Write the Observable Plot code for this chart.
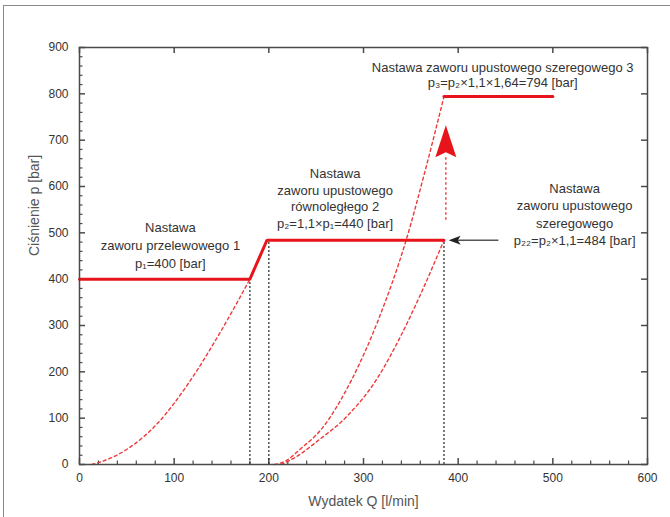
<!DOCTYPE html>
<html><head><meta charset="utf-8">
<script src="https://cdn.jsdelivr.net/npm/d3@7"></script>
<script src="https://cdn.jsdelivr.net/npm/@observablehq/plot@0.6"></script>
<style>
html,body{margin:0;padding:0;background:#fff;}
#wrap{position:relative;width:670px;height:517px;overflow:hidden;background:#fff;}
#border{position:absolute;left:3px;top:5px;width:720px;height:600px;border-left:1.5px solid #8a8a8a;border-top:1.5px solid #8a8a8a;}
#chart{position:absolute;left:0;top:0;}
</style></head><body>
<div id="wrap"><div id="border"></div><div id="chart"></div></div>
<script>
// ---- data ----
const xMajor = [0, 100, 200, 300, 400, 500, 600];
const yMajor = [0, 100, 200, 300, 400, 500, 600, 700, 800, 900];
const xMinor = d3.range(0, 601, 20).filter(v => v % 100 !== 0);
const yMinor = d3.range(0, 901, 20).filter(v => v % 100 !== 0);

// characteristic (solid red)
const mainQ = [0, 180, 198, 385];
const mainP = [400, 400, 484, 484];
const topQ = [385, 500];
const topP = [794, 794];

// dashed red curves
const curveAQ = [13, 20, 51, 83, 115, 150, 180];
const curveAP = [0, 4, 34, 90, 175, 290, 400];
const curveBQ = [206, 218, 233, 255, 287, 316, 345, 365, 385];
const curveBP = [0, 8, 33, 75, 181, 314, 484, 633, 794];
const curveCQ = [213, 230, 251, 283, 313, 340, 362, 385];
const curveCP = [0, 18, 50, 105, 181, 280, 375, 484];

// black dotted drop lines
const dropQ = [180, 200, 385];
const dropP = [400, 484, 484];

// red arrow (up) and black arrow (left)
const redArrowQ = 387, redArrowFrom = 527, redArrowTo = 665, redArrowTip = 732;
const blackArrowP = 484, blackArrowFrom = 443, blackArrowTip = 390;

// annotations
const note1 = "Nastawa\nzaworu przelewowego 1\np₁=400 [bar]";
const note2 = "Nastawa\nzaworu upustowego\nrównoległego 2\np₂=1,1×p₁=440 [bar]";
const note3 = "Nastawa zaworu upustowego szeregowego 3\np₃=p₂×1,1×1,64=794 [bar]";
const note4 = "Nastawa\nzaworu upustowego\nszeregowego\np₂₂=p₂×1,1=484 [bar]";
const xLabel = "Wydatek Q [l/min]";
const yLabel = "Ciśnienie p [bar]";

// ---- build ----
const W = 670, H = 517, ML = 79, MR = 23, MT = 47, MB = 53;
const xDom = [0, 600], yDom = [0, 900];
// pixel -> data-unit conversion for tick lengths
const ux = px => px * (xDom[1] - xDom[0]) / (W - ML - MR);
const uy = px => px * (yDom[1] - yDom[0]) / (H - MT - MB);

const zip = (qs, ps) => qs.map((q, i) => ({q, p: ps[i]}));
const RED = "#e8141b";
const DRED = "#ee3a3a";
const AX = "#4a4a4a";
const TXT = "#333";
const redHead = {draw(ctx) { ctx.moveTo(0, 0); ctx.lineTo(10.5, 32); ctx.lineTo(0, 27); ctx.lineTo(-10.5, 32); ctx.closePath(); }};
const blackHead = {draw(ctx) { ctx.moveTo(0, 0); ctx.lineTo(12, -4.5); ctx.lineTo(9, 0); ctx.lineTo(12, 4.5); ctx.closePath(); }};

const font = "'Liberation Sans', Arial, Helvetica, sans-serif";

const chart = Plot.plot({
  width: W, height: H,
  marginLeft: ML, marginRight: MR, marginTop: MT, marginBottom: MB,
  x: {domain: xDom},
  y: {domain: yDom},
  style: {fontFamily: font, fontSize: "12px", color: TXT, background: "transparent"},
  marks: [
    // inward ticks
    Plot.ruleX(xMajor, {x: d => d, y1: yDom[0], y2: yDom[0] + uy(6), stroke: AX, strokeWidth: 1.5}),
    Plot.ruleX(xMinor, {x: d => d, y1: yDom[0], y2: yDom[0] + uy(3.5), stroke: AX, strokeWidth: 1.2}),
    Plot.ruleX(xMajor, {x: d => d, y1: yDom[1], y2: yDom[1] - uy(6), stroke: AX, strokeWidth: 1.5}),
    Plot.ruleY(yMajor, {y: d => d, x1: xDom[0], x2: xDom[0] + ux(6), stroke: AX, strokeWidth: 1.5}),
    Plot.ruleY(yMinor, {y: d => d, x1: xDom[0], x2: xDom[0] + ux(3.5), stroke: AX, strokeWidth: 1.2}),
    Plot.ruleY(yMajor, {y: d => d, x1: xDom[1], x2: xDom[1] - ux(6), stroke: AX, strokeWidth: 1.5}),
    Plot.axisX(xMajor, {tickSize: 0, tickPadding: 9, label: null, color: TXT, fontSize: 12}),
    Plot.axisY(yMajor, {tickSize: 0, tickPadding: 11, label: null, color: TXT, fontSize: 12}),
    Plot.text([xLabel], {frameAnchor: "bottom", dy: 41, fill: "#555", fontSize: 14}),
    Plot.text([yLabel], {frameAnchor: "left", dx: -45, rotate: -90, fill: "#555", fontSize: 14}),

    // dotted drop lines
    Plot.ruleX(zip(dropQ, dropP), {x: "q", y1: 0, y2: "p", stroke: "#333", strokeWidth: 1.3, strokeDasharray: "2,2"}),

    // dashed red curves
    Plot.line(zip(curveAQ, curveAP), {x: "q", y: "p", curve: "monotone-x", stroke: DRED, strokeWidth: 1.4, strokeDasharray: "3,3"}),
    Plot.line(zip(curveBQ, curveBP), {x: "q", y: "p", curve: "monotone-x", stroke: DRED, strokeWidth: 1.4, strokeDasharray: "3,3"}),
    Plot.line(zip(curveCQ, curveCP), {x: "q", y: "p", curve: "monotone-x", stroke: DRED, strokeWidth: 1.4, strokeDasharray: "3,3"}),

    // red arrow
    Plot.ruleX([redArrowQ], {x: d => d, y1: redArrowFrom, y2: redArrowTo, stroke: DRED, strokeWidth: 1.4, strokeDasharray: "2.5,2.5"}),
    Plot.dot([redArrowQ], {x: d => d, y: redArrowTip, symbol: redHead, fill: RED, stroke: "none"}),

    // main characteristic
    Plot.line(zip(mainQ, mainP), {x: "q", y: "p", stroke: RED, strokeWidth: 3, strokeLinejoin: "miter"}),
    Plot.line(zip(topQ, topP), {x: "q", y: "p", stroke: RED, strokeWidth: 3}),

    // black arrow
    Plot.ruleY([blackArrowP], {y: d => d, x1: blackArrowTip + ux(8), x2: blackArrowFrom, stroke: "#555", strokeWidth: 1.6}),
    Plot.dot([blackArrowP], {x: blackArrowTip, y: d => d, symbol: blackHead, fill: "#222", stroke: "none"}),

    Plot.frame({stroke: AX, strokeWidth: 1.5}),

    // annotations
    Plot.text([note1], {x: 96, y: 475, fontSize: 13, lineHeight: 1.4, fill: TXT}),
    Plot.text([note2], {x: 270, y: 576, fontSize: 13, lineHeight: 1.3, fill: TXT}),
    Plot.text([note3], {x: 447, y: 842, fontSize: 13, lineHeight: 1.2, fill: TXT}),
    Plot.text([note4], {x: 523, y: 542, fontSize: 13, lineHeight: 1.35, fill: TXT})
  ]
});
document.getElementById("chart").appendChild(chart);
</script>
</body></html>
